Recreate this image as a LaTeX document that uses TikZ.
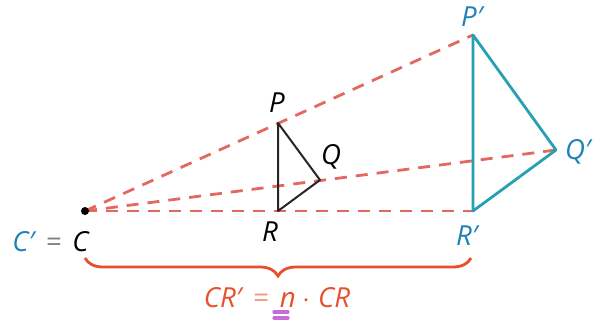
\documentclass[tikz,border=0pt]{standalone}
\usepackage{fontspec}
\setmainfont{Open Sans}
\usetikzlibrary{decorations.pathreplacing}
\definecolor{rayred}{RGB}{226,104,96}
\definecolor{imgblue}{RGB}{30,130,185}
\definecolor{imgteal}{RGB}{40,160,180}
\definecolor{bracered}{RGB}{232,80,45}
\definecolor{markpurple}{RGB}{185,70,210}

\begin{document}
\begin{tikzpicture}[x=0.5pt, y=-0.5pt,
        every node/.style={font=\fontsize{13.8}{16}\selectfont\itshape, inner sep=1pt},
        ray/.style={rayred, line width=1.4pt, dash pattern=on 6pt off 4.5pt},
        pretri/.style={black!85, line width=1pt, line join=round},
        imgtri/.style={imgteal, line width=1.4pt, line join=round}]
        \useasboundingbox (0,0) rectangle (595,322);

        % Centre of dilation
        \coordinate (C) at (85,211);

        % Pre-image vertices
        \coordinate (P) at (278,123);
        \coordinate (Q) at (320,180);
        \coordinate (R) at (278,211);

        % Image vertices (scale factor 2)
        \coordinate (Pi) at (473,35);
        \coordinate (Qi) at (556,150);
        \coordinate (Ri) at (473,211);

        % Rays from the centre through the vertices
        \foreach \v in {Pi,Qi,Ri} {
            \draw[ray] (C) -- (\v);
        }

        % Triangles
        \draw[pretri] (P) -- (Q) -- (R) -- cycle;
        \draw[imgtri] (Pi) -- (Qi) -- (Ri) -- cycle;

        % Centre point
        \fill (C) circle (2pt);

        % Vertex labels
        \node (lP) at (277,103) {P};
        \node (lQ) at (331,157) {Q};
        \node (lR) at (270,232) {R};
        \node[text=imgblue] (lPi) at (472,17) {P′};
        \node[text=imgblue] (lQi) at (578,152) {Q′};
        \node[text=imgblue] (lRi) at (467,236) {R′};
        \node[anchor=base east] (lC) at (91,251)
            {{\color{imgblue}C′}\hspace{0.4em}{\color{gray}=}\hspace{0.4em}C};

        % Brace under the segment CR'
        \draw[bracered, line width=1.4pt,
              decorate, decoration={brace, mirror, amplitude=9pt}]
            (85,258) -- (471,258);

        % Ratio of the distances
        \node[text=bracered, anchor=base] (ratio) at (277,307)
            {CR′\hspace{0.4em}{\color{bracered!60}=}\hspace{0.4em}n $\cdot$ CR};

        % Marker under n
        \draw[markpurple, line width=1.6pt, opacity=0.8, line cap=round]
            (274,312) -- (288,312) (274,318) -- (288,318);
\end{tikzpicture}
\end{document}
